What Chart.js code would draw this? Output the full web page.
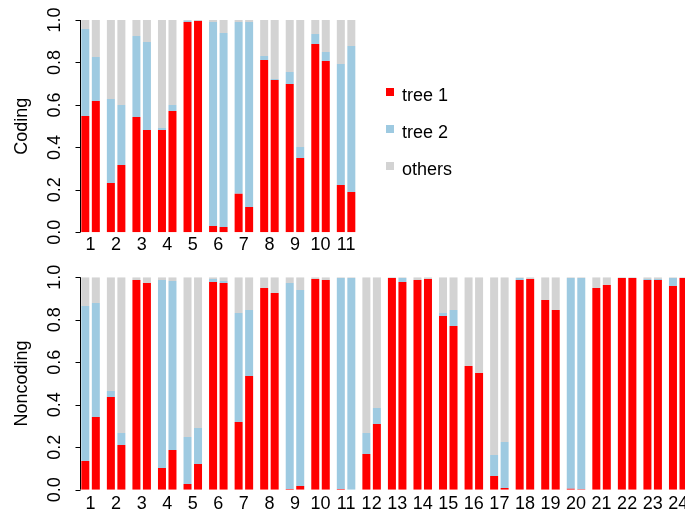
<!DOCTYPE html>
<html>
<head>
<meta charset="utf-8">
<script src="https://cdn.jsdelivr.net/npm/chart.js@4.4.0/dist/chart.umd.min.js"></script>
<style>
html, body { margin: 0; padding: 0; overflow: hidden; background: #fff; width: 685px; height: 513px; }
canvas { position: absolute; left: 0; }
#coding { top: 0; }
#noncoding { top: 256px; }
</style>
</head>
<body>
<canvas id="coding" width="685" height="256"></canvas>
<canvas id="noncoding" width="700" height="257"></canvas>
<script>
// series names and colours
const seriesLabels = ['tree 1', 'tree 2', 'others'];
const seriesColors = ['#ff0000', '#9ecae1', '#d3d3d3'];
const yTicks = [0, 0.2, 0.4, 0.6, 0.8, 1.0];
const yTickLabels = ['0.0', '0.2', '0.4', '0.6', '0.8', '1.0'];

// Coding panel: first and second bar of each group
const codingGroups = ['1', '2', '3', '4', '5', '6', '7', '8', '9', '10', '11'];
const codingTree1A  = [0.548, 0.232, 0.543, 0.482, 0.990, 0.030, 0.181, 0.812, 0.699, 0.887, 0.223];
const codingTree2A  = [0.410, 0.396, 0.382, 0.009, 0.008, 0.961, 0.810, 0.018, 0.056, 0.047, 0.570];
const codingOthersA = [0.042, 0.372, 0.075, 0.509, 0.002, 0.009, 0.009, 0.170, 0.245, 0.066, 0.207];
const codingTree1B  = [0.619, 0.317, 0.482, 0.571, 0.995, 0.025, 0.119, 0.717, 0.350, 0.807, 0.190];
const codingTree2B  = [0.207, 0.283, 0.414, 0.029, 0.000, 0.914, 0.872, 0.005, 0.052, 0.042, 0.688];
const codingOthersB = [0.174, 0.400, 0.104, 0.400, 0.005, 0.061, 0.009, 0.278, 0.598, 0.151, 0.122];

// Noncoding panel
const noncodingGroups = ['1', '2', '3', '4', '5', '6', '7', '8', '9', '10', '11', '12',
    '13', '14', '15', '16', '17', '18', '19', '20', '21', '22', '23', '24'];
const noncodingTree1A  = [0.135, 0.436, 0.987, 0.102, 0.027, 0.978, 0.319, 0.950, 0.003, 0.992, 0.003, 0.168,
    0.997, 0.987, 0.818, 0.582, 0.064, 0.987, 0.893, 0.005, 0.950, 0.997, 0.987, 0.959];
const noncodingTree2A  = [0.730, 0.029, 0.000, 0.885, 0.221, 0.014, 0.513, 0.000, 0.970, 0.000, 0.994, 0.099,
    0.000, 0.000, 0.014, 0.000, 0.099, 0.010, 0.000, 0.992, 0.000, 0.000, 0.005, 0.038];
const noncodingOthersA = [0.135, 0.535, 0.013, 0.013, 0.752, 0.008, 0.168, 0.050, 0.027, 0.008, 0.003, 0.733,
    0.003, 0.013, 0.168, 0.418, 0.837, 0.003, 0.107, 0.003, 0.050, 0.003, 0.008, 0.003];
const noncodingTree1B  = [0.342, 0.210, 0.973, 0.187, 0.121, 0.973, 0.535, 0.926, 0.017, 0.987, 0.000, 0.309,
    0.978, 0.992, 0.771, 0.549, 0.008, 0.992, 0.846, 0.002, 0.964, 0.997, 0.987, 0.997];
const noncodingTree2B  = [0.537, 0.057, 0.000, 0.796, 0.169, 0.010, 0.311, 0.000, 0.923, 0.000, 0.997, 0.076,
    0.019, 0.000, 0.075, 0.000, 0.216, 0.000, 0.000, 0.995, 0.000, 0.000, 0.005, 0.000];
const noncodingOthersB = [0.121, 0.733, 0.027, 0.017, 0.710, 0.017, 0.154, 0.074, 0.060, 0.013, 0.003, 0.615,
    0.003, 0.008, 0.154, 0.451, 0.776, 0.008, 0.154, 0.003, 0.036, 0.003, 0.008, 0.003];

const FONT = '"Liberation Sans", Arial, Helvetica, sans-serif';

// y axis, rotated tick labels, panel title and (optionally) legend
const rAxisPlugin = {
    id: 'rAxis',
    afterDraw(chart, args, opts) {
        const ctx = chart.ctx;
        const y = chart.scales.y;
        const first = chart.getDatasetMeta(0).data[0];
        const axisX = Math.round(first.x - first.width / 2) - 0.5;
        ctx.save();
        ctx.strokeStyle = '#000';
        ctx.lineWidth = 1;
        ctx.beginPath();
        ctx.moveTo(axisX, y.getPixelForValue(0));
        ctx.lineTo(axisX, y.getPixelForValue(1));
        yTicks.forEach(v => {
            const py = Math.round(y.getPixelForValue(v)) + 0.5;
            ctx.moveTo(axisX, py);
            ctx.lineTo(axisX - 5, py);
        });
        ctx.stroke();

        ctx.fillStyle = '#000';
        ctx.font = '18px ' + FONT;
        ctx.textAlign = 'center';
        ctx.textBaseline = 'alphabetic';
        yTicks.forEach((v, i) => {
            ctx.save();
            ctx.translate(axisX - 21, y.getPixelForValue(v));
            ctx.rotate(-Math.PI / 2);
            ctx.fillText(yTickLabels[i], 0, 0);
            ctx.restore();
        });

        ctx.save();
        ctx.translate(27, (chart.chartArea.top + chart.chartArea.bottom) / 2);
        ctx.rotate(-Math.PI / 2);
        ctx.fillText(opts.title, 0, 0);
        ctx.restore();

        if (opts.legend) {
            ctx.textAlign = 'left';
            seriesLabels.forEach((lab, i) => {
                const cy = 92 + i * 37;
                ctx.fillStyle = seriesColors[i];
                ctx.fillRect(386, cy - 4, 8, 8);
                ctx.fillStyle = '#000';
                ctx.fillText(lab, 402, cy + 9);
            });
        }
        ctx.restore();
    }
};

function makePanel(id, groups, a, b, layout, title, legend) {
    const datasets = [];
    [a, b].forEach((bar, k) => {
        bar.forEach((values, i) => {
            datasets.push({
                label: seriesLabels[i],
                data: values,
                backgroundColor: seriesColors[i],
                borderWidth: 0,
                stack: 'bar' + k,
                barPercentage: 0.762,
                categoryPercentage: 0.822
            });
        });
    });

    return new Chart(document.getElementById(id), {
        type: 'bar',
        data: { labels: groups, datasets: datasets },
        options: {
            responsive: false,
            animation: false,
            layout: { padding: layout.padding },
            plugins: {
                legend: { display: false },
                tooltip: { enabled: false },
                rAxis: { title: title, legend: legend }
            },
            scales: {
                x: {
                    stacked: true,
                    grid: { display: false, drawTicks: false },
                    border: { display: false },
                    ticks: {
                        autoSkip: false,
                        maxRotation: 0,
                        padding: layout.labelPad,
                        color: '#000',
                        font: { family: FONT, size: 18 }
                    },
                    afterFit: scale => { scale.height = 20; }
                },
                y: {
                    stacked: true,
                    display: false,
                    min: 0,
                    max: 1
                }
            }
        },
        plugins: [rAxisPlugin]
    });
}

makePanel('coding', codingGroups,
    [codingTree1A, codingTree2A, codingOthersA],
    [codingTree1B, codingTree2B, codingOthersB],
    { padding: { left: 77.8, right: 326.15, top: 20, bottom: 3.7 }, labelPad: 2 },
    'Coding', true);

makePanel('noncoding', noncodingGroups,
    [noncodingTree1A, noncodingTree2A, noncodingOthersA],
    [noncodingTree1B, noncodingTree2B, noncodingOthersB],
    { padding: { left: 77.8, right: 9, top: 21.3, bottom: 3.3 }, labelPad: 3.5 },
    'Noncoding', false);
</script>
</body>
</html>
